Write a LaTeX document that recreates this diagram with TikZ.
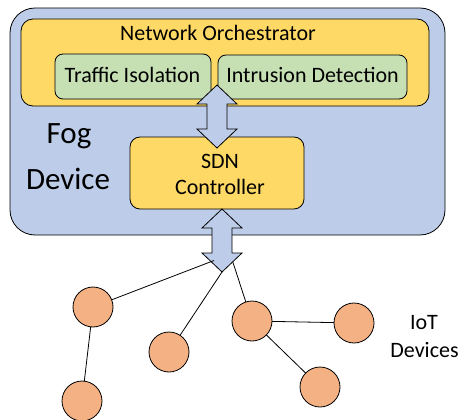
\documentclass[tikz,border=0pt]{standalone}
\usepackage{fontspec}
\setmainfont{Carlito}
\definecolor{fogblue}{HTML}{BDCDE9}
\definecolor{orchyellow}{HTML}{FFD966}
\definecolor{modgreen}{HTML}{C6E0B4}
\definecolor{iotorange}{HTML}{F4B183}
\tikzset{
  box/.style={draw=black, line width=0.8pt, rectangle},
  lbl/.style={anchor=base, inner sep=0pt, font=\fontsize{22}{26}\selectfont},
  biglbl/.style={anchor=base, inner sep=0pt, font=\fontsize{31}{36}\selectfont},
  iot/.style={draw=black, line width=0.8pt, fill=iotorange, circle, minimum size=40pt, inner sep=0pt},
  link/.style={draw=black, line width=0.8pt},
  dblarrow/.pic={
    \path[draw=black, line width=0.8pt, fill=fogblue, line join=miter]
      (0,-31.5) -- (20,-12.5) -- (10,-12.5) -- (10,12.5) -- (20,12.5)
      -- (0,31.5) -- (-20,12.5) -- (-10,12.5) -- (-10,-12.5) -- (-20,-12.5) -- cycle;
    \coordinate (-tip) at (0,31.5);
    \coordinate (-left) at (-8,20);
    \coordinate (-right) at (11,22);
  }
}
\begin{document}
\begin{tikzpicture}[x=1pt, y=-1pt]
\useasboundingbox (0,0) rectangle (458,420);

% fog device with its orchestrator and controller
\node[box, fill=fogblue, rounded corners=25pt, minimum width=435pt, minimum height=227pt] (fog) at (227.5,121.5) {};
\node[box, fill=orchyellow, rounded corners=12pt, minimum width=408pt, minimum height=87pt] (orch) at (225,62.5) {};
\node[box, fill=modgreen, rounded corners=8pt, minimum width=156pt, minimum height=45pt] (traffic) at (133,76.5) {};
\node[box, fill=modgreen, rounded corners=8pt, minimum width=189pt, minimum height=44pt] (intrusion) at (312.5,77) {};
\node[box, fill=orchyellow, rounded corners=10pt, minimum width=174pt, minimum height=72pt] (sdn) at (217,173) {};

\node[lbl] (orchtxt) at (218,41) {Network Orchestrator};
\node[lbl] (traffictxt) at (132.5,82) {Traffic Isolation};
\node[lbl] (intrusiontxt) at (312.5,83) {Intrusion Detection};
\node[lbl] (sdntxt1) at (220,168) {SDN};
\node[lbl] (sdntxt2) at (220,194) {Controller};
\node[biglbl] (fogtxt1) at (69,143) {Fog};
\node[biglbl] (fogtxt2) at (68,189) {Device};

% double arrows
\pic (upper) at (217,116.5) {dblarrow};
\pic (lower) at (222,240.5) {dblarrow};

% IoT devices
\coordinate (p1) at (93,307);
\coordinate (p2) at (82,401);
\coordinate (p3) at (169,352);
\coordinate (p4) at (252,321);
\coordinate (p5) at (354,323);
\coordinate (p6) at (320,387);
\draw[link] (lower-left) -- (p1);
\draw[link] (lower-tip) -- (p3);
\draw[link] (lower-right) -- (p4);
\draw[link] (p1) -- (p2);
\draw[link] (p4) -- (p5);
\draw[link] (p4) -- (p6);
\node[iot] (d1) at (p1) {};
\node[iot] (d2) at (p2) {};
\node[iot] (d3) at (p3) {};
\node[iot] (d4) at (p4) {};
\node[iot] (d5) at (p5) {};
\node[iot] (d6) at (p6) {};

\node[lbl] (iottxt1) at (424,329) {IoT};
\node[lbl] (iottxt2) at (424.5,357) {Devices};
\end{tikzpicture}
\end{document}
